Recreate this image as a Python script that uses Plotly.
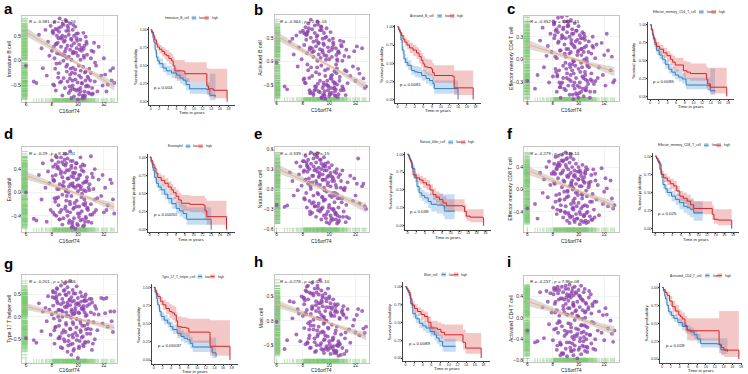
import plotly.graph_objects as go
import numpy as np

W, H = 748, 374
letters = list("abcdefghi")
cells = ["Immature B cell","Activated B cell","Effector memory CD4 T cell","Eosinophil","Natural killer cell",
         "Effector memory CD8 T cell","Type 17 T helper cell","Mast cell","Activated CD4 T cell"]
km_names = ["Immature_B_cell","Activated_B_cell","Effector_memory_CD4_T_cell","Eosinophil","Natural_killer_cell",
            "Effector_memory_CD8_T_cell","Type_17_T_helper_cell","Mast_cell","Activated_CD4_T_cell"]
stats = ["<i>R</i> = -0.381 , <i>p</i> = 2.2e-16","<i>R</i> = -0.364 , <i>p</i> = 2.2e-16","<i>R</i> = -0.352 , <i>p</i> = 1.83e-15",
         "<i>R</i> = -0.29 , <i>p</i> = 8.23e-11","<i>R</i> = -0.339 , <i>p</i> = 5.77e-15","<i>R</i> = -0.279 , <i>p</i> = 2.34e-10",
         "<i>R</i> = -0.201 , <i>p</i> = 5.8e-06","<i>R</i> = -0.278 , <i>p</i> = 2.42e-10","<i>R</i> = -0.237 , <i>p</i> = 7.86e-08"]
km_p = ["p = 0.004","p = 0.0081","p = 0.0085","p = 0.00051","p = 0.038","p = 0.025","p = 0.00037","p = 0.0089","p = 0.028"]

gene = [6.0,6.6,6.8,7.0,7.2,7.3,7.5,7.6,7.7,7.8,
 7.9,8.0,8.1,8.1,8.2,8.2,8.3,8.3,8.4,8.4,
 8.5,8.5,8.6,8.6,8.7,8.7,8.8,8.8,8.8,8.9,
 8.9,9.0,9.0,9.0,9.1,9.1,9.1,9.2,9.2,9.2,
 9.3,9.3,9.3,9.4,9.4,9.4,9.5,9.5,9.5,9.6,
 9.6,9.6,9.7,9.7,9.7,9.8,9.8,9.8,9.9,9.9,
 9.9,10.0,10.0,10.0,10.1,10.1,10.1,10.2,10.2,10.2,
 10.3,10.3,10.4,10.4,10.5,10.5,10.6,10.6,10.7,10.7,
 10.8,10.9,11.0,11.0,11.1,11.2,11.3,11.4,11.5,11.6,
 11.8,11.9,12.0,12.1,12.3,12.5,12.6,12.7,12.8,12.2,
 8.05,8.25,8.45,8.62,8.82,8.98,9.05,9.15,9.25,9.35,
 8.15,8.35,8.55,8.72,8.92,9.55,9.65,9.75,9.85,10.95,
 10.45,10.55,10.65,10.75,8.28,8.48,8.68,8.88,9.42,9.52,
 9.62,10.42,10.82,11.05,11.15,11.25,10.22,10.32,8.58,10.52,
 8.38,9.08,9.18,9.28,9.38,9.48,9.58,9.68,9.78,9.88,
 9.98,10.08,10.18,10.28,10.38,10.48,10.58,10.68,10.78,10.88,
 9.04,9.14,8.18,8.34,9.44,8.54,9.64,11.08,11.32,9.94,
 10.04,10.14,10.24,10.34,10.44,10.54,8.08,8.78,9.58,10.62]

y_a = [-0.10,-0.42,-0.45,0.52,0.25,-0.15,0.62,-0.30,0.38,0.10,
 0.70,0.20,-0.48,0.55,0.05,0.78,-0.60,0.33,0.15,0.62,
 -0.25,0.45,0.85,-0.05,0.28,0.68,-0.70,0.12,0.50,0.72,
 -0.35,0.40,-0.55,0.18,0.80,-0.12,0.60,0.30,-0.42,0.70,
 0.08,-0.65,0.52,0.22,-0.28,0.75,-0.75,0.42,0.02,0.62,
 -0.50,0.15,0.35,-0.72,0.50,-0.18,0.68,-0.38,0.25,-0.60,
 0.45,-0.78,0.10,0.55,-0.30,-0.68,0.32,0.02,-0.55,0.42,
 -0.45,0.20,-0.72,-0.12,0.30,-0.62,-0.22,0.48,-0.50,0.12,
 -0.35,-0.66,0.05,-0.25,-0.55,0.18,-0.42,-0.10,-0.62,0.28,
 -0.30,-0.50,0.05,-0.28,-0.48,-0.20,-0.40,-0.15,-0.45,-0.62,
 0.58,-0.16,0.36,-0.44,0.74,0.10,0.48,-0.22,0.66,-0.52,
 0.28,-0.06,0.58,-0.42,0.38,-0.24,0.72,-0.58,0.16,-0.40,
 0.24,-0.70,0.38,-0.32,0.64,-0.34,0.46,0.00,-0.60,0.30,
 -0.14,0.56,-0.52,0.20,-0.66,0.36,-0.20,-0.46,0.14,-0.74,
 0.50,0.24,-0.08,0.60,-0.36,0.44,-0.56,0.16,-0.26,0.54,
 -0.44,-0.10,-0.62,0.26,-0.70,0.06,-0.40,0.34,-0.64,-0.16,
 0.82,0.06,-0.50,0.34,-0.16,0.66,0.18,-0.68,-0.04,0.40,
 -0.58,0.22,-0.34,-0.76,0.10,-0.24,0.60,0.44,-0.40,-0.52]
y_b = [-0.02,-0.52,-0.58,0.42,0.48,0.15,0.55,-0.10,0.30,0.62,
 0.05,0.65,-0.35,0.35,0.72,-0.45,0.18,0.58,-0.18,0.80,
 -0.60,0.25,0.50,0.88,-0.30,0.68,0.10,0.42,-0.70,0.60,
 0.76,-0.22,0.32,-0.52,0.55,0.02,0.84,-0.62,0.40,0.15,
 0.66,-0.40,0.26,-0.75,0.72,-0.08,0.48,-0.55,0.20,0.60,
 -0.68,0.35,-0.30,0.50,-0.78,0.12,-0.48,0.70,-0.15,0.30,
 -0.60,0.45,-0.72,0.05,-0.35,0.62,-0.55,0.25,-0.65,0.10,
 -0.42,0.40,-0.70,-0.20,0.28,-0.58,0.05,-0.48,0.22,-0.68,
 -0.32,0.35,-0.52,0.02,-0.60,-0.18,0.25,-0.45,0.10,-0.30,
 -0.10,0.22,-0.40,0.32,-0.25,0.28,-0.35,-0.55,-0.52,-0.15,
 -0.38,0.46,0.70,-0.12,0.22,-0.58,0.52,0.78,-0.26,0.08,
 -0.44,0.62,-0.66,0.20,-0.52,0.38,-0.72,0.04,-0.40,0.32,
 -0.62,-0.24,-0.74,0.18,0.56,-0.34,0.28,-0.60,0.66,-0.70,
 0.14,-0.46,0.44,-0.56,0.12,-0.70,-0.28,0.36,-0.64,-0.06,
 0.64,-0.12,0.38,-0.64,0.74,0.24,-0.44,-0.18,0.52,-0.50,
 0.22,-0.68,-0.36,0.48,-0.54,-0.72,-0.14,0.20,-0.40,-0.60,
 0.44,-0.46,0.58,-0.06,-0.76,0.30,-0.62,0.42,-0.20,-0.52,
 -0.66,-0.30,0.30,-0.56,-0.44,0.14,0.60,-0.66,-0.50,0.02]
y_c = [-0.28,-0.38,-0.20,0.25,0.42,-0.10,0.05,0.18,-0.30,0.34,
 0.10,-0.22,0.48,0.28,-0.12,0.38,-0.42,0.02,0.55,0.22,
 -0.30,0.44,0.12,-0.50,0.32,0.56,-0.08,0.40,-0.24,0.20,
 0.50,-0.40,0.28,0.04,0.58,-0.18,0.36,-0.34,0.14,0.46,
 -0.06,0.30,-0.46,0.52,0.10,-0.28,0.40,-0.14,0.20,-0.52,
 0.34,-0.02,0.48,-0.38,0.16,-0.24,0.38,-0.44,0.06,0.26,
 -0.34,0.44,-0.12,-0.50,0.22,-0.30,0.32,-0.04,-0.42,0.14,
 0.36,-0.22,0.10,-0.48,0.26,-0.16,-0.36,0.18,-0.06,-0.28,
 0.24,-0.42,0.08,-0.18,0.30,-0.32,0.02,0.20,-0.24,-0.10,
 0.22,-0.20,0.06,-0.34,0.12,-0.14,0.04,-0.30,-0.27,0.34,
 0.50,-0.16,0.24,-0.32,0.42,-0.04,0.14,0.50,-0.26,-0.10,
 0.32,-0.20,0.12,-0.30,0.08,-0.46,0.18,-0.08,0.38,-0.26,
 0.16,-0.40,-0.02,-0.32,0.40,-0.14,0.28,-0.38,0.22,-0.06,
 -0.18,0.34,-0.10,-0.28,0.16,-0.42,0.06,0.28,-0.36,-0.20,
 0.36,-0.24,0.44,0.08,-0.20,0.34,0.00,-0.30,0.24,-0.46,
 0.12,-0.36,0.28,-0.10,-0.24,0.30,-0.40,-0.08,0.10,-0.50,
 -0.12,0.44,0.04,-0.22,0.26,-0.36,-0.02,0.18,-0.28,0.10,
 -0.44,-0.16,0.14,-0.38,0.00,-0.26,0.46,0.30,-0.34,0.02]
y_d = [0.00,-0.45,-0.48,0.30,-0.12,0.50,0.08,-0.50,0.36,0.16,
 -0.30,0.55,0.22,0.44,-0.10,-0.38,0.30,0.62,0.06,0.42,
 -0.22,0.52,0.14,-0.46,0.36,0.60,-0.04,0.26,-0.55,0.48,
 0.18,0.66,-0.28,0.34,-0.14,0.50,0.04,-0.40,0.58,0.24,
 -0.52,0.38,0.10,-0.20,0.70,-0.34,0.28,0.46,-0.06,-0.58,
 0.16,0.54,-0.26,0.32,-0.44,0.08,0.42,-0.62,0.22,-0.14,
 0.50,-0.36,0.02,-0.56,0.30,0.12,-0.24,0.60,-0.48,0.06,
 -0.32,0.38,-0.58,0.16,-0.12,0.46,-0.42,0.02,-0.28,0.26,
 -0.50,0.14,0.62,-0.20,-0.38,0.06,0.40,-0.30,-0.10,0.22,
 -0.06,0.30,-0.34,0.08,-0.22,0.22,0.16,-0.12,-0.36,-0.30,
 0.28,-0.16,0.44,-0.34,0.12,0.56,-0.24,0.38,0.00,-0.48,
 0.20,-0.10,0.40,-0.30,0.10,-0.54,0.26,-0.18,0.50,-0.38,
 0.04,-0.50,0.18,-0.26,0.48,-0.08,0.32,-0.44,0.14,-0.60,
 0.34,-0.20,0.08,-0.52,0.26,-0.34,0.44,-0.02,-0.46,0.18,
 0.60,0.02,-0.32,0.24,-0.16,0.42,-0.50,0.10,0.34,-0.24,
 0.12,-0.42,0.30,-0.08,0.48,-0.56,-0.18,0.20,-0.30,0.04,
 0.46,-0.06,0.20,-0.40,0.54,0.06,-0.28,0.32,-0.12,-0.54,
 0.24,-0.36,0.10,-0.46,0.36,-0.22,-0.34,0.52,0.12,-0.44]
y_e = [-0.24,-0.27,-0.25,0.25,0.12,-0.10,0.40,-0.02,0.22,0.34,
 0.05,0.42,-0.14,0.28,0.50,0.14,-0.28,0.36,0.08,0.44,
 -0.18,0.30,0.55,0.00,-0.36,0.20,0.46,-0.10,0.34,0.52,
 -0.26,0.12,0.40,-0.42,0.26,0.54,-0.06,0.32,-0.22,0.18,
 0.44,-0.34,0.06,0.30,-0.46,0.38,-0.12,0.22,-0.28,0.48,
 0.02,-0.40,0.34,-0.16,0.14,-0.50,0.28,-0.04,0.40,-0.34,
 0.10,-0.24,0.32,-0.52,0.04,-0.40,0.24,-0.12,0.36,-0.30,
 -0.46,0.16,-0.20,0.26,-0.36,0.06,-0.52,-0.08,0.18,-0.28,
 -0.42,0.12,-0.14,0.28,-0.34,0.02,-0.24,0.10,-0.44,0.20,
 -0.18,0.16,-0.10,0.08,-0.22,0.04,0.08,-0.26,-0.30,0.46,
 0.26,-0.06,0.16,0.38,-0.20,0.30,0.08,-0.32,0.20,0.44,
 -0.16,0.26,-0.38,0.10,-0.26,0.34,-0.02,-0.44,0.18,-0.20,
 -0.36,0.02,-0.14,-0.48,0.40,0.10,-0.22,0.28,-0.30,0.14,
 0.36,-0.10,0.22,-0.42,-0.02,-0.50,0.12,-0.30,0.04,-0.46,
 0.32,0.48,-0.08,0.24,-0.30,0.14,-0.18,0.38,-0.38,0.06,
 -0.28,0.20,-0.44,-0.06,0.12,-0.38,0.30,-0.50,-0.14,0.02,
 0.50,-0.26,0.14,0.34,-0.12,-0.34,0.28,0.00,-0.42,0.20,
 -0.10,-0.48,0.18,-0.32,-0.06,0.24,0.42,0.20,-0.16,-0.40]
y_f = [-0.34,-0.26,-0.52,0.30,-0.06,0.18,0.40,-0.14,0.50,0.08,
 0.28,-0.32,0.46,0.12,0.58,-0.22,0.36,-0.44,0.20,0.60,
 -0.08,0.42,-0.38,0.28,0.62,0.04,-0.50,0.34,0.52,-0.18,
 0.14,0.66,-0.30,0.44,-0.56,0.24,0.56,-0.12,0.36,-0.42,
 0.48,0.06,-0.60,0.30,0.64,-0.26,0.16,-0.48,0.40,0.02,
 -0.36,0.54,-0.16,0.26,-0.58,0.10,0.46,-0.44,-0.04,0.32,
 -0.52,0.18,-0.24,0.40,-0.62,0.06,0.34,-0.34,0.24,-0.56,
 -0.10,0.44,-0.46,0.14,-0.28,0.30,-0.60,-0.02,0.36,-0.40,
 0.12,-0.22,-0.54,0.26,-0.08,-0.36,0.28,-0.18,0.08,-0.46,
 0.38,-0.26,-0.04,0.20,-0.30,0.16,-0.16,-0.34,-0.28,0.02,
 0.32,-0.10,0.48,-0.28,0.16,-0.42,0.40,-0.04,0.26,-0.50,
 0.10,0.42,-0.18,0.30,-0.40,0.00,-0.54,0.22,-0.30,0.14,
 -0.46,0.34,-0.12,-0.58,0.38,-0.20,0.52,-0.04,0.12,-0.34,
 0.24,-0.48,0.08,-0.22,0.36,-0.50,-0.08,0.18,-0.38,0.28,
 0.44,-0.14,0.22,-0.46,0.58,0.06,-0.32,0.34,-0.06,-0.52,
 0.18,-0.40,0.30,-0.16,-0.58,0.12,0.40,-0.30,0.04,-0.48,
 0.54,-0.02,0.28,-0.36,0.10,0.44,-0.24,-0.54,0.16,-0.10,
 0.32,-0.44,0.06,-0.30,0.22,-0.56,0.28,0.50,-0.20,-0.42]
y_g = [-0.48,-0.52,-0.58,0.30,-0.32,0.12,0.20,-0.10,0.46,0.16,
 -0.40,0.05,0.55,0.25,-0.60,0.42,0.10,-0.22,0.62,0.34,
 -0.48,0.15,0.50,-0.08,0.70,0.28,-0.70,0.40,0.00,0.58,
 -0.30,0.22,0.75,-0.55,0.10,0.48,-0.18,0.66,0.32,-0.78,
 0.02,0.54,-0.42,0.26,0.80,-0.26,0.12,-0.85,0.44,0.60,
 -0.12,-0.60,0.36,0.06,-0.72,0.52,0.20,-0.36,0.68,-0.05,
 -0.52,0.30,-0.92,0.42,0.08,-0.66,0.26,0.55,-0.30,-0.14,
 0.46,-0.46,0.16,-0.62,0.36,-0.20,0.50,0.02,-0.38,0.24,
 -0.56,0.40,0.10,-0.28,0.32,-0.12,-0.50,0.18,-0.30,0.05,
 0.42,-0.15,0.40,0.08,-0.22,0.12,-0.10,-0.34,0.12,0.42,
 0.44,-0.24,0.30,-0.44,0.12,0.60,-0.34,0.22,-0.64,0.38,
 -0.04,0.46,-0.20,0.14,-0.50,0.34,-0.76,0.08,0.28,-0.38,
 0.18,-0.56,0.36,-0.16,0.54,0.00,-0.68,0.32,-0.28,0.16,
 -0.46,0.24,-0.10,0.40,-0.60,0.06,-0.34,0.20,-0.48,0.10,
 0.64,-0.14,0.26,-0.54,0.38,-0.02,-0.40,0.52,0.14,-0.24,
 0.30,-0.70,-0.08,0.18,-0.44,0.36,-0.58,0.04,-0.26,0.28,
 0.50,0.02,-0.30,0.40,-0.62,0.16,-0.16,-0.74,0.24,-0.42,
 0.10,-0.54,0.34,-0.20,-0.66,0.44,0.58,-0.36,0.06,-0.28]
y_h = [-0.02,-0.58,-0.40,0.40,0.05,0.38,-0.28,0.24,0.15,-0.42,
 0.50,0.10,-0.15,0.34,0.62,-0.48,0.22,0.70,-0.05,0.44,
 -0.30,0.58,0.14,-0.55,0.78,0.30,0.02,-0.18,0.52,0.66,
 -0.44,0.20,0.40,-0.62,0.72,0.06,-0.32,0.54,0.26,-0.12,
 0.84,-0.50,0.36,0.12,-0.58,0.62,-0.22,0.30,0.48,-0.40,
 0.08,-0.66,0.56,0.20,-0.30,0.40,-0.52,0.00,0.66,-0.14,
 -0.60,0.28,0.50,-0.42,0.16,-0.68,0.36,-0.08,-0.54,0.24,
 0.44,-0.34,-0.62,0.10,-0.20,0.30,-0.50,0.18,-0.42,-0.72,
 0.04,-0.28,0.22,-0.56,0.12,-0.36,0.06,0.24,-0.18,-0.45,
 -0.10,0.02,-0.24,0.12,-0.30,0.20,-0.16,-0.25,-0.12,0.24,
 0.48,0.14,-0.36,0.56,-0.10,0.32,-0.50,0.66,0.18,-0.24,
 0.42,-0.46,-0.02,0.26,-0.64,0.08,-0.38,0.46,-0.56,0.18,
 -0.26,-0.62,0.34,-0.46,0.60,-0.18,0.24,-0.36,0.42,-0.60,
 -0.04,0.34,-0.48,0.14,-0.68,-0.24,0.28,-0.52,-0.10,-0.64,
 0.72,-0.20,0.36,0.04,-0.46,0.52,-0.06,-0.58,0.28,-0.32,
 0.46,-0.56,0.10,-0.38,-0.66,0.22,-0.12,-0.52,0.06,-0.70,
 0.58,-0.28,0.16,-0.44,0.38,-0.56,0.02,0.30,-0.62,-0.16,
 -0.48,0.12,-0.40,-0.60,0.18,-0.66,0.46,0.56,-0.24,-0.50]
y_i = [-0.24,-0.46,-0.44,0.48,0.20,-0.38,0.50,0.30,-0.12,0.46,
 0.10,-0.42,0.52,-0.22,0.30,0.55,-0.60,0.14,0.46,-0.28,
 0.52,0.04,-0.50,0.36,0.58,-0.16,0.22,-0.66,0.48,0.10,
 -0.34,0.60,0.26,-0.58,0.06,0.44,-0.72,0.54,-0.10,0.32,
 -0.46,0.18,0.62,-0.26,0.38,-0.62,0.08,0.50,-0.36,0.24,
 -0.70,0.42,-0.04,0.58,-0.52,0.14,-0.20,0.46,-0.76,0.30,
 -0.30,0.52,-0.60,0.02,0.40,-0.44,0.20,-0.68,0.60,-0.14,
 -0.52,0.34,-0.26,0.48,-0.62,0.10,-0.40,0.26,-0.18,-0.56,
 0.38,-0.32,0.08,-0.48,0.22,-0.10,-0.40,0.30,-0.24,0.12,
 -0.28,0.05,-0.42,0.18,-0.20,-0.05,-0.30,-0.45,-0.24,0.06,
 0.44,-0.20,0.34,-0.50,0.16,0.54,-0.30,0.06,0.40,-0.56,
 0.26,-0.10,-0.46,0.36,-0.24,0.56,-0.60,0.12,-0.34,0.44,
 -0.14,0.28,-0.54,0.16,0.52,-0.06,-0.66,0.34,-0.18,-0.48,
 0.22,-0.36,0.50,-0.08,-0.58,0.30,-0.28,0.14,-0.70,0.00,
 0.58,-0.46,0.18,0.42,-0.12,-0.62,0.28,-0.34,0.48,0.04,
 -0.22,-0.56,0.36,-0.02,-0.44,0.54,-0.16,-0.64,0.20,-0.32,
 0.38,-0.26,0.10,-0.52,0.46,-0.08,-0.40,0.26,-0.60,0.02,
 0.42,-0.38,-0.14,0.32,-0.54,0.12,0.56,-0.68,0.24,-0.30]
cloud = [y_a,y_b,y_c,y_d,y_e,y_f,y_g,y_h,y_i]

fit_left  = [0.58,0.54,0.20,0.29,0.31,0.345,0.23,0.35,0.31]
fit_right = [-0.52,-0.52,-0.157,-0.25,-0.285,-0.29,-0.245,-0.32,-0.245]
fit_half  = [0.09,0.09,0.06,0.07,0.07,0.08,0.08,0.08,0.09]

# Kaplan-Meier readings: time, survival, upper, lower
a_high_t=[0,.3,.6,.9,1.3,1.6,2,2.6,3.2,3.6,4.2,4.8,5.2,5.6,6.4,7.5,7.9,12.9,13,13.4,14.5,17.7,17.7]
a_high_s=[1,.97,.92,.86,.80,.76,.73,.70,.66,.64,.60,.57,.50,.43,.43,.425,.39,.39,.22,.18,.16,.16,0]
a_high_u=[1,.98,.95,.90,.85,.82,.79,.76,.74,.72,.69,.66,.62,.58,.58,.58,.55,.55,.47,.46,.46,.46,.46]
a_high_l=[1,.95,.89,.81,.75,.71,.67,.63,.59,.56,.52,.48,.40,.32,.31,.30,.27,.27,.10,.07,.05,.05,.05]
a_low_t=[0,.2,.5,.7,1,1.3,1.6,2,2.8,3.6,4.8,6,6.8,7.5,8.2,9,13,13.7,15]
a_low_s=[1,.96,.89,.83,.72,.62,.57,.53,.47,.43,.40,.37,.33,.30,.24,.18,.17,.09,.07]
a_low_u=[1,.98,.93,.88,.78,.69,.64,.60,.54,.50,.47,.45,.41,.39,.33,.27,.27,.39,.39]
a_low_l=[1,.93,.85,.78,.66,.56,.51,.47,.41,.37,.33,.29,.25,.22,.16,.11,.10,.02,.01]

b_high_t=[0,.3,.6,.9,1.3,1.7,2.2,2.8,3.6,4.4,5,5.5,5.9,6.3,7,7.8,8.1,8.5,12.7,13.1,17.5,17.5]
b_high_s=[1,.96,.92,.88,.83,.79,.75,.71,.68,.64,.59,.54,.49,.45,.44,.42,.37,.33,.32,.16,.16,0]
b_high_u=[1,.98,.95,.92,.89,.85,.82,.78,.75,.72,.68,.64,.60,.56,.55,.54,.50,.47,.47,.40,.40,.40]
b_high_l=[1,.94,.89,.83,.78,.73,.69,.64,.60,.56,.50,.45,.39,.35,.33,.32,.27,.23,.22,.06,.06,.06]
b_low_t=[0,.3,.5,.8,1.1,1.5,1.9,2.4,3.2,4,4.7,5.6,6.6,7.4,8.2,8.5,13.3,14]
b_low_s=[1,.96,.93,.82,.68,.56,.51,.47,.40,.38,.37,.33,.29,.26,.22,.15,.15,0]
b_low_u=[1,.98,.97,.87,.74,.63,.58,.54,.47,.46,.45,.41,.37,.35,.31,.26,.26,.26]
b_low_l=[1,.94,.89,.77,.62,.50,.45,.41,.34,.31,.30,.26,.22,.19,.15,.08,.08,.08]

c_high_t=[0,.3,.6,.8,1.1,1.5,2.2,3.1,3.9,4.7,5.2,5.8,7.4,7.7,8.5,9.3,12.7,13,13.3,13.9,17.7,17.7]
c_high_s=[1,.94,.87,.82,.75,.70,.66,.61,.57,.52,.48,.44,.44,.36,.34,.32,.32,.24,.175,.13,.13,0]
c_high_u=[1,.96,.90,.86,.81,.76,.72,.68,.64,.60,.57,.54,.54,.50,.48,.46,.46,.42,.40,.40,.40,.40]
c_high_l=[1,.91,.82,.77,.69,.64,.59,.54,.49,.44,.39,.35,.35,.26,.24,.22,.22,.12,.08,.04,.04,.04]
c_low_t=[0,.3,.6,.8,1.1,1.5,2.1,2.8,3.5,4.3,5,5.8,6.6,7.4,8.3,13.1,13.9,15]
c_low_s=[1,.93,.85,.80,.72,.64,.58,.52,.45,.38,.34,.30,.27,.245,.16,.155,.08,.07]
c_low_u=[1,.95,.89,.85,.78,.70,.64,.58,.51,.45,.41,.38,.35,.33,.26,.26,.39,.39]
c_low_l=[1,.90,.80,.75,.66,.58,.52,.46,.39,.32,.28,.24,.21,.18,.10,.09,.02,.01]

d_high_t=[0,.3,.7,1,1.4,1.8,2.6,3.4,4.2,4.9,5.4,6,6.6,7.2,9.1,12.2,12.6,13,17.5,17.5]
d_high_s=[1,.95,.90,.85,.78,.72,.68,.64,.59,.55,.51,.46,.41,.365,.35,.34,.26,.18,.165,0]
d_high_u=[1,.97,.93,.89,.84,.78,.75,.71,.67,.63,.59,.55,.51,.48,.47,.47,.43,.40,.40,.40]
d_high_l=[1,.92,.86,.81,.72,.66,.61,.57,.51,.47,.42,.37,.31,.26,.24,.22,.14,.07,.06,.06]
d_low_t=[0,.3,.6,.8,1.1,1.5,2,2.6,3.4,4.1,5,6,6.8,7.6,8.4,14,14]
d_low_s=[1,.93,.86,.82,.72,.64,.59,.55,.49,.43,.36,.295,.26,.225,.145,.145,0]
d_low_u=[1,.96,.90,.86,.78,.70,.66,.62,.57,.51,.45,.39,.36,.34,.31,.31,.31]
d_low_l=[1,.90,.81,.77,.66,.58,.53,.48,.42,.36,.29,.22,.18,.15,.07,.07,.07]

e_high_t=[0,.2,.5,.7,1,1.3,2,2.8,3.6,4.4,5.2,5.9,6.6,7.4,8.2,9,12.8,13.2,13.6,14.5,17.4,17.6]
e_high_s=[1,.98,.93,.90,.81,.71,.67,.64,.60,.57,.50,.435,.40,.365,.32,.28,.27,.20,.135,.12,.11,0]
e_high_u=[1,.99,.95,.93,.85,.76,.73,.70,.67,.64,.58,.52,.48,.45,.41,.37,.37,.30,.23,.23,.23,.23]
e_high_l=[1,.96,.90,.87,.77,.66,.61,.58,.53,.50,.43,.36,.32,.28,.24,.20,.19,.12,.07,.05,.05,.05]
e_low_t=[0,.3,.6,.9,1.2,1.7,2.2,2.7,3.3,4,4.8,5.5,6.8,8.2,8.6,10.9]
e_low_s=[1,.96,.92,.875,.80,.67,.55,.46,.42,.39,.34,.30,.29,.28,.205,.205]
e_low_u=[1,.98,.95,.91,.85,.73,.62,.53,.50,.47,.45,.44,.44,.44,.44,.44]
e_low_l=[1,.94,.88,.84,.75,.61,.48,.39,.35,.31,.25,.20,.17,.14,.09,.09]

f_high_t=[0,.3,.6,.8,1.1,1.4,2,2.8,3.5,4.3,5,5.7,6.5,7.4,8.2,8.9,12.7,13.2,13.6,14.5,17.5,17.7]
f_high_s=[1,.97,.93,.91,.82,.75,.70,.66,.62,.59,.52,.45,.42,.38,.33,.28,.28,.20,.13,.12,.115,0]
f_high_u=[1,.98,.96,.94,.87,.80,.76,.72,.69,.66,.59,.52,.50,.47,.42,.38,.38,.32,.27,.27,.27,.27]
f_high_l=[1,.95,.90,.88,.78,.70,.64,.60,.55,.52,.45,.38,.34,.30,.25,.20,.20,.12,.07,.05,.05,.05]
f_low_t=[0,.3,.7,1.1,1.4,1.8,2.3,2.8,3.8,4.7,5.6,6.6,7.4,8.1,8.9,11]
f_low_s=[1,.97,.93,.89,.75,.61,.55,.50,.45,.405,.36,.31,.29,.27,.22,.22]
f_low_u=[1,.98,.95,.92,.80,.67,.61,.57,.52,.48,.45,.42,.41,.40,.38,.38]
f_low_l=[1,.95,.90,.85,.70,.55,.49,.44,.38,.33,.27,.22,.19,.16,.11,.11]

g_high_t=[0,.3,.6,.9,1.5,2.1,2.8,3.6,4.2,4.8,5.2,5.5,6.4,7.5,8.1,12.8,13,17.6,17.6]
g_high_s=[1,.96,.92,.875,.81,.76,.71,.67,.65,.62,.54,.46,.45,.44,.385,.38,.19,.19,0]
g_high_u=[1,.98,.95,.91,.87,.83,.80,.77,.75,.73,.66,.60,.59,.58,.57,.57,.55,.55,.55]
g_high_l=[1,.94,.88,.84,.75,.69,.63,.58,.55,.51,.42,.33,.32,.31,.24,.24,.06,.06,.06]
g_low_t=[0,.3,.6,.9,1.3,1.7,2.4,3.2,3.8,4.4,5.4,6.3,7,7.8,8.4,9,12.8,13.5,14.4]
g_low_s=[1,.93,.85,.76,.67,.60,.55,.51,.46,.42,.37,.325,.30,.28,.23,.18,.175,.10,.045]
g_low_u=[1,.95,.89,.81,.73,.66,.62,.58,.53,.49,.45,.41,.38,.37,.32,.27,.31,.31,.31]
g_low_l=[1,.90,.80,.71,.61,.54,.49,.45,.40,.36,.30,.26,.23,.21,.16,.11,.11,.03,.01]

h_high_t=[0,.2,.5,.8,1.1,1.5,2.1,2.8,3.6,4.4,5.2,5.9,7.4,8.2,9,12.8,13.3,13.9,17.4,17.5]
h_high_s=[1,.98,.95,.92,.83,.74,.69,.65,.61,.58,.50,.42,.40,.36,.325,.325,.22,.14,.14,0]
h_high_u=[1,.99,.97,.95,.88,.79,.75,.71,.68,.65,.58,.52,.50,.48,.47,.47,.40,.35,.35,.35]
h_high_l=[1,.96,.93,.89,.78,.69,.63,.59,.54,.50,.42,.33,.31,.27,.23,.22,.12,.06,.06,.06]
h_low_t=[0,.3,.6,.9,1.2,1.7,2.4,3.2,4,4.75,5.7,6.7,7.2,7.8,8.6,11.6]
h_low_s=[1,.96,.92,.875,.76,.62,.55,.485,.45,.42,.37,.325,.28,.235,.165,.165]
h_low_u=[1,.98,.95,.91,.81,.68,.61,.55,.52,.49,.45,.41,.37,.33,.27,.27]
h_low_l=[1,.94,.88,.84,.70,.56,.49,.42,.38,.35,.30,.25,.20,.16,.09,.09]

i_high_t=[0,.3,.7,1.1,1.7,2.3,3,3.8,4.2,4.6,5.2,5.7,13,13,13.5,14.1,17.5,17.5]
i_high_s=[1,.97,.93,.89,.81,.73,.67,.615,.59,.56,.47,.395,.385,.20,.16,.125,.125,0]
i_high_u=[1,.98,.96,.94,.88,.81,.76,.70,.68,.65,.60,.57,.57,.67,.67,.67,.67,.67]
i_high_l=[1,.95,.90,.84,.74,.66,.60,.53,.50,.46,.36,.26,.25,.08,.05,.03,.03,.03]
i_low_t=[0,.3,.6,.8,1.1,1.5,2.1,2.7,3.6,4.6,5.7,6.5,7.3,8,8.8,12.6,13.4,14.9]
i_low_s=[1,.95,.88,.84,.75,.66,.61,.57,.51,.455,.41,.38,.34,.28,.215,.21,.13,.10]
i_low_u=[1,.97,.91,.88,.80,.71,.66,.62,.56,.51,.47,.44,.41,.35,.29,.29,.29,.29]
i_low_l=[1,.92,.84,.80,.70,.61,.56,.52,.46,.40,.35,.32,.28,.22,.16,.15,.07,.04]

curves_high = [(a_high_t,a_high_s,a_high_u,a_high_l),(b_high_t,b_high_s,b_high_u,b_high_l),(c_high_t,c_high_s,c_high_u,c_high_l),
 (d_high_t,d_high_s,d_high_u,d_high_l),(e_high_t,e_high_s,e_high_u,e_high_l),(f_high_t,f_high_s,f_high_u,f_high_l),
 (g_high_t,g_high_s,g_high_u,g_high_l),(h_high_t,h_high_s,h_high_u,h_high_l),(i_high_t,i_high_s,i_high_u,i_high_l)]
curves_low = [(a_low_t,a_low_s,a_low_u,a_low_l),(b_low_t,b_low_s,b_low_u,b_low_l),(c_low_t,c_low_s,c_low_u,c_low_l),
 (d_low_t,d_low_s,d_low_u,d_low_l),(e_low_t,e_low_s,e_low_u,e_low_l),(f_low_t,f_low_s,f_low_u,f_low_l),
 (g_low_t,g_low_s,g_low_u,g_low_l),(h_low_t,h_low_s,h_low_u,h_low_l),(i_low_t,i_low_s,i_low_u,i_low_l)]

# layout geometry in pixels: frame, then two (value, pixel) calibration points
sc_xcol = [(22,117,26,104),(275,369,277,356),(525,620,528,605)]
sc_y = [(15,102,0.5,35,-0.5,85),(14,101,0.5,37,-0.5,85),(15,101,0.3,36,-0.3,82),
        (147,232,0.4,169,-0.4,216),(147,232,0.6,149,-0.6,229),(147,232,0.4,167,-0.4,212),
        (275,364,0.5,295,-0.5,340),(275,364,0.5,297,-0.5,346),(276,363,0.4,297,-0.4,340)]
sc_yticks = [[-0.5,0,0.5],[-0.5,0,0.5,1.0],[-0.3,0,0.3],[-0.4,0,0.4],[-0.6,-0.3,0,0.3,0.6],[-0.4,0,0.4],
             [-0.5,0,0.5],[-0.5,0,0.5],[-0.8,-0.4,0,0.4]]
sc_xtitle_y = [111,110,110,241,241,241,370.5,371,371]
sc_ytitle_x = [9,261,511,9,261,511,9,261,511]
km_x = [(149,235,151,228.7),(396,482,398,476),(649,735,651,729),(148,235,150,229),(406,492,408,486),(654,740,656,734),
        (152,238,154,232),(404,491,406,484),(661,743,663,742)]
km_y = [(26,105,29,101.3),(24,103,26,99),(21,99,24,96),(154,232,157,230),(152,230,154,226),(153,232,156,229),
        (285,365,288,361),(283,362,287,359),(284,364,288,360)]
stat_px = [(27,21),(278,21),(529,21),(27,153),(278,153),(529,153),(27,282),(278,282),(529,282)]
p_px = [(152,87),(399,84),(652,81),(152,215),(409,212),(657,214),(156,346),(408,344),(665,346)]
leg_px = [(192,17),(438,15),(700,11),(186,146),(449,142),(705,145),(198,277),(442,275),(706,276)]
letter_px = [(2,8),(252,9),(506,8),(2,133),(252,133),(506,133),(2,264),(252,262),(506,262)]

PURPLE, GREEN = "rgba(142,68,173,0.78)", "rgba(120,200,110,0.75)"
BLUE, RED = "#2f7fbf", "#d3262b"
BLUE_F, RED_F = "rgba(80,150,210,0.32)", "rgba(222,80,80,0.32)"
FONT = "Liberation Sans"

def px_x(p): return p / W
def px_y(p): return 1 - p / H
def cal(a, va, b, vb, p):
    return va + (p - a) * (vb - va) / (b - a)

fig = go.Figure()
layout = dict(width=W, height=H, margin=dict(l=0, r=0, t=0, b=0), showlegend=False,
              paper_bgcolor="white", plot_bgcolor="white", font=dict(family=FONT, color="#333"))
anns, shapes = [], []

def note(x, y, text, size, anchor="left", angle=0, color="#222"):
    anns.append(dict(x=px_x(x), y=px_y(y), xref="paper", yref="paper", text=text, showarrow=False, textangle=angle,
                     xanchor=anchor, yanchor="middle", font=dict(size=size, family=FONT, color=color)))

for k in range(9):
    # scatter panel
    ix = 2 * k + 1
    xa, ya = f"x{ix}", f"y{ix}"
    fx0, fx1, c6, c12 = sc_xcol[k % 3]
    xr = [cal(c6, 6, c12, 12, fx0), cal(c6, 6, c12, 12, fx1)]
    top, bot, v1, p1, v2, p2 = sc_y[k]
    yr = [cal(p1, v1, p2, v2, bot), cal(p1, v1, p2, v2, top)]
    ys = cloud[k]
    n = min(len(gene), len(ys))
    gx, gy = gene[:n], ys[:n]
    kn = np.array([6, 8, 9.7, 11, 12.8])
    mid = fit_left[k] + (fit_right[k] - fit_left[k]) * (kn - 6) / 6.8
    hw = fit_half[k] * np.array([1, 0.55, 0.35, 0.5, 1])
    fig.add_trace(go.Scatter(x=gx, y=[yr[0]] * n, mode="markers", xaxis=xa, yaxis=ya, hoverinfo="skip",
                             marker=dict(symbol="line-ns", size=6, line=dict(color=GREEN, width=0.7))))
    fig.add_trace(go.Scatter(x=[xr[0]] * n, y=gy, mode="markers", xaxis=xa, yaxis=ya, hoverinfo="skip",
                             marker=dict(symbol="line-ew", size=8, line=dict(color=GREEN, width=0.8))))
    fig.add_trace(go.Scatter(x=gx, y=gy, mode="markers", xaxis=xa, yaxis=ya,
                             marker=dict(color=PURPLE, size=3.9, line=dict(width=0))))
    fig.add_trace(go.Scatter(x=np.r_[kn, kn[::-1]], y=np.r_[mid + hw, (mid - hw)[::-1]], mode="lines", fill="toself",
                             fillcolor="rgba(175,175,175,0.45)", line=dict(width=0), xaxis=xa, yaxis=ya, hoverinfo="skip"))
    fig.add_trace(go.Scatter(x=[6, 12.8], y=[fit_left[k], fit_right[k]], mode="lines", xaxis=xa, yaxis=ya,
                             line=dict(color="#f6b26b", width=1)))
    layout[f"xaxis{ix}"] = dict(domain=[px_x(fx0), px_x(fx1)], range=xr, anchor=ya, tickvals=[6, 8, 10, 12],
        showline=True, mirror=True, linecolor="#c4c4c4", linewidth=1.3, showgrid=True, gridcolor="#f2f2f2", gridwidth=0.5,
        zeroline=False, ticks="outside", ticklen=1, tickwidth=0.5, tickcolor="#888", tickfont=dict(size=4.8, color="#333"),
        ticklabelstandoff=-4)
    layout[f"yaxis{ix}"] = dict(domain=[px_y(bot), px_y(top)], range=yr, anchor=xa, tickvals=sc_yticks[k],
        tickformat=".1f", showline=True, mirror=True, linecolor="#c4c4c4", linewidth=1.3, showgrid=True, gridcolor="#f2f2f2",
        gridwidth=0.5, zeroline=False, ticks="outside", ticklen=1, tickwidth=0.5, tickcolor="#888",
        tickfont=dict(size=5, color="#333"), ticklabelstandoff=-2)
    note((fx0 + fx1) / 2, sc_xtitle_y[k], "C16orf74", 5, anchor="center")
    note(sc_ytitle_x[k], (top + bot) / 2, cells[k], 5.2, anchor="center", angle=-90)
    note(stat_px[k][0], stat_px[k][1], stats[k], 4.4)
    note(letter_px[k][0], letter_px[k][1], f"<b>{letters[k]}</b>", 15, color="#000")

    # survival panel
    jx = 2 * k + 2
    xb, yb = f"x{jx}", f"y{jx}"
    l, r, p0, p18 = km_x[k]
    t, b, p100, p00 = km_y[k]
    xr2 = [cal(p0, 0, p18, 18, l), cal(p0, 0, p18, 18, r)]
    yr2 = [cal(p100, 1, p00, 0, b), cal(p100, 1, p00, 0, t)]
    for (tt, ss, uu, ll), col, fc in ((curves_low[k], BLUE, BLUE_F), (curves_high[k], RED, RED_F)):
        fig.add_trace(go.Scatter(x=tt, y=ll, mode="lines", line=dict(width=0, shape="hv"), xaxis=xb, yaxis=yb, hoverinfo="skip"))
        fig.add_trace(go.Scatter(x=tt, y=uu, mode="lines", line=dict(width=0, shape="hv"), fill="tonexty", fillcolor=fc,
                                 xaxis=xb, yaxis=yb, hoverinfo="skip"))
    for (tt, ss, uu, ll), col in ((curves_low[k], BLUE), (curves_high[k], RED)):
        fig.add_trace(go.Scatter(x=tt, y=ss, mode="lines", line=dict(color=col, width=1, shape="hv"), xaxis=xb, yaxis=yb))
    axis_kw = dict(showline=True, linecolor="#444", linewidth=0.6, showgrid=False, zeroline=False, ticks="outside",
                   ticklen=1.2, tickwidth=0.4, tickcolor="#444", tickfont=dict(size=3.8, color="#333"))
    layout[f"xaxis{jx}"] = dict(domain=[px_x(l), px_x(r)], range=xr2, anchor=yb, tickvals=list(range(0, 19, 2)),
                                ticklabelstandoff=-2, **axis_kw)
    layout[f"yaxis{jx}"] = dict(domain=[px_y(b), px_y(t)], range=yr2, anchor=xb, tickvals=[0, .25, .5, .75, 1],
        tickformat=".2f", ticklabelstandoff=-1, **axis_kw)
    note((l + r) / 2, b + 7.5, "Time in years", 4.3, anchor="center")
    note(l - 14, (t + b) / 2, "Survival probability", 4.3, anchor="center", angle=-90)
    note(p_px[k][0], p_px[k][1], km_p[k], 4.4)

    # survival legend
    lx, ly = leg_px[k]
    note(lx - 1, ly, km_names[k], 3.2, anchor="right")
    for off, col, fc, lab in ((0, BLUE, "rgba(110,170,220,0.55)", "low"), (12.5, RED, "rgba(230,110,110,0.55)", "high")):
        shapes.append(dict(type="rect", xref="paper", yref="paper", x0=px_x(lx + off), x1=px_x(lx + off + 4.5),
                           y0=px_y(ly + 2), y1=px_y(ly - 2), fillcolor=fc, line=dict(width=0)))
        shapes.append(dict(type="line", xref="paper", yref="paper", x0=px_x(lx + off), x1=px_x(lx + off + 4.5),
                           y0=px_y(ly), y1=px_y(ly), line=dict(color=col, width=0.8)))
        note(lx + off + 5.5, ly, lab, 3.2)

layout["annotations"] = anns
layout["shapes"] = shapes
fig.update_layout(**layout)
fig.write_html("out.html", config=dict(displayModeBar=False),
               post_script="document.body.style.margin='0';document.body.style.overflow='hidden';")
